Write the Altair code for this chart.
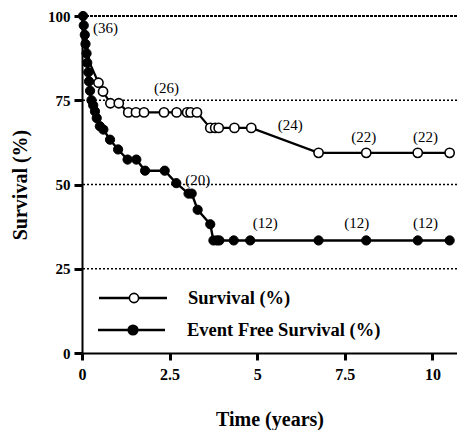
import altair as alt
import pandas as pd

# ---- data ----
surv_t = [0.0, 0.05, 0.1, 0.14, 0.18, 0.22, 0.47, 0.6, 0.81, 1.05, 1.32, 1.54, 1.77, 2.34, 2.7,
          3.0, 3.1, 3.28, 3.66, 3.8, 3.9, 4.35, 4.83, 6.75, 8.11, 9.58, 10.49]
surv_s = [100, 97.2, 94.4, 91.7, 88.9, 86.1, 80.2, 77.6, 74.1, 74.1, 71.4, 71.4, 71.4, 71.4, 71.4,
          71.4, 71.4, 71.4, 66.8, 66.8, 66.8, 66.8, 66.8, 59.4, 59.4, 59.4, 59.4]

efs_t = [0.03, 0.05, 0.08, 0.1, 0.13, 0.15, 0.18, 0.2, 0.23, 0.27, 0.32, 0.37, 0.42, 0.51, 0.61,
         0.8, 1.03, 1.3, 1.55, 1.8, 2.36, 2.69, 3.04, 3.13, 3.3, 3.66, 3.75, 3.85, 3.92, 4.33, 4.8,
         6.75, 8.11, 9.58, 10.49]
efs_s = [100, 97.2, 94.4, 91.7, 88.9, 86.1, 83.3, 80.6, 77.8, 75.0, 73.5, 71.7, 69.7, 67.3, 66.3,
         63.3, 60.4, 57.4, 57.4, 54.1, 54.1, 50.4, 47.3, 47.3, 42.5, 38.2, 33.4, 33.4, 33.4, 33.4, 33.4,
         33.4, 33.4, 33.4, 33.4]

ann_text = ["(36)", "(26)", "(24)", "(22)", "(22)", "(20)", "(12)", "(12)", "(12)"]
ann_t = [0.67, 2.41, 5.94, 8.04, 9.8, 3.3, 5.23, 7.84, 9.8]
ann_s = [96.5, 78.5, 67.8, 64.0, 64.0, 51.3, 38.6, 38.6, 38.6]

y_ticks = [0, 25, 50, 75, 100]
x_ticks = [0, 2.5, 5, 7.5, 10]
grid_vals = [25, 50, 75]
top_vals = [100]
legend_labels = ["Survival (%)", "Event Free Survival (%)"]

FONT = "Liberation Serif"

surv = pd.DataFrame({"t": surv_t, "s": surv_s})
surv_marked = surv[surv["s"] < 82]  # earlier survival points are hidden under the EFS markers
efs = pd.DataFrame({"t": efs_t, "s": efs_s})
ann = pd.DataFrame({"label": ann_text, "t": ann_t, "s": ann_s})

xs = alt.Scale(domain=[0, 10.7], nice=False)
ys = alt.Scale(domain=[0, 100], nice=False)

x_axis = alt.Axis(values=x_ticks, format=".1~f", title="Time (years)", grid=False, domainWidth=2,
                  domainColor="black", tickColor="black", tickWidth=3, tickSize=7,
                  labelFont=FONT, labelFontWeight="bold", labelFontSize=16, labelColor="black",
                  labelPadding=6, titleFont=FONT, titleFontWeight="bold", titleFontSize=20,
                  titleColor="black", titlePadding=27, labelFlush=False)
y_axis = alt.Axis(values=y_ticks, title="Survival (%)", grid=False, domainWidth=2,
                  domainColor="black", tickColor="black", tickWidth=3, tickSize=8,
                  labelFont=FONT, labelFontWeight="bold", labelFontSize=15, labelColor="black",
                  labelPadding=4, titleFont=FONT, titleFontWeight="bold", titleFontSize=20,
                  titleColor="black", titlePadding=17)

grid = alt.Chart(pd.DataFrame({"v": grid_vals})).mark_rule(
    color="black", strokeDash=[2, 2], strokeWidth=1.5
).encode(y=alt.Y("v:Q", scale=ys, axis=y_axis))

top = alt.Chart(pd.DataFrame({"v": top_vals})).mark_rule(
    color="black", strokeDash=[3, 1], strokeWidth=2
).encode(y=alt.Y("v:Q", scale=ys))

surv_line = alt.Chart(surv).mark_line(color="black", strokeWidth=2.2).encode(
    x=alt.X("t:Q", scale=xs, axis=x_axis), y=alt.Y("s:Q", scale=ys))
surv_pts = alt.Chart(surv_marked).mark_point(shape="circle", filled=True, fill="white", stroke="black",
                                             strokeWidth=1.6, size=85, opacity=1).encode(
    x=alt.X("t:Q", scale=xs), y=alt.Y("s:Q", scale=ys))

efs_line = alt.Chart(efs).mark_line(color="black", strokeWidth=2.4).encode(
    x=alt.X("t:Q", scale=xs), y=alt.Y("s:Q", scale=ys))
efs_pts = alt.Chart(efs).mark_point(shape="circle", filled=True, fill="black", stroke="black",
                                    strokeWidth=1, size=85, opacity=1).encode(
    x=alt.X("t:Q", scale=xs), y=alt.Y("s:Q", scale=ys))

ann_layer = alt.Chart(ann).mark_text(font=FONT, fontSize=15, color="black",
                                     align="center", baseline="middle").encode(
    x=alt.X("t:Q", scale=xs), y=alt.Y("s:Q", scale=ys), text="label:N")

# ---- legend drawn inside the plot ----
leg1 = pd.DataFrame({"label": [legend_labels[0]]})
leg2 = pd.DataFrame({"label": [legend_labels[1]]})
L1Y, L2Y = 282, 314
leg_layers = [
    alt.Chart(leg1).mark_rule(color="black", strokeWidth=2.4).encode(
        x=alt.value(17), x2=alt.value(85), y=alt.value(L1Y)),
    alt.Chart(leg1).mark_point(shape="circle", filled=True, fill="white", stroke="black",
                               strokeWidth=1.6, size=85, opacity=1).encode(
        x=alt.value(52), y=alt.value(L1Y)),
    alt.Chart(leg1).mark_text(font=FONT, fontWeight="bold", fontSize=18.5, align="left",
                              baseline="middle", color="black").encode(
        x=alt.value(106), y=alt.value(L1Y), text="label:N"),
    alt.Chart(leg2).mark_rule(color="black", strokeWidth=2.4).encode(
        x=alt.value(16), x2=alt.value(83), y=alt.value(L2Y)),
    alt.Chart(leg2).mark_point(shape="circle", filled=True, fill="black", stroke="black",
                               size=85, opacity=1).encode(
        x=alt.value(51), y=alt.value(L2Y)),
    alt.Chart(leg2).mark_text(font=FONT, fontWeight="bold", fontSize=18.5, align="left",
                              baseline="middle", color="black").encode(
        x=alt.value(105), y=alt.value(L2Y), text="label:N"),
]

chart = alt.layer(grid, top, surv_line, surv_pts, efs_line, efs_pts, ann_layer, *leg_layers).properties(
    width=375, height=337,
    autosize=alt.AutoSizeParams(type="none"),
    padding={"left": 74, "top": 8, "right": 0, "bottom": 77},
    background="white",
).configure_view(stroke=None)

chart.save("out.html", embed_options={"renderer": "svg", "actions": False})
